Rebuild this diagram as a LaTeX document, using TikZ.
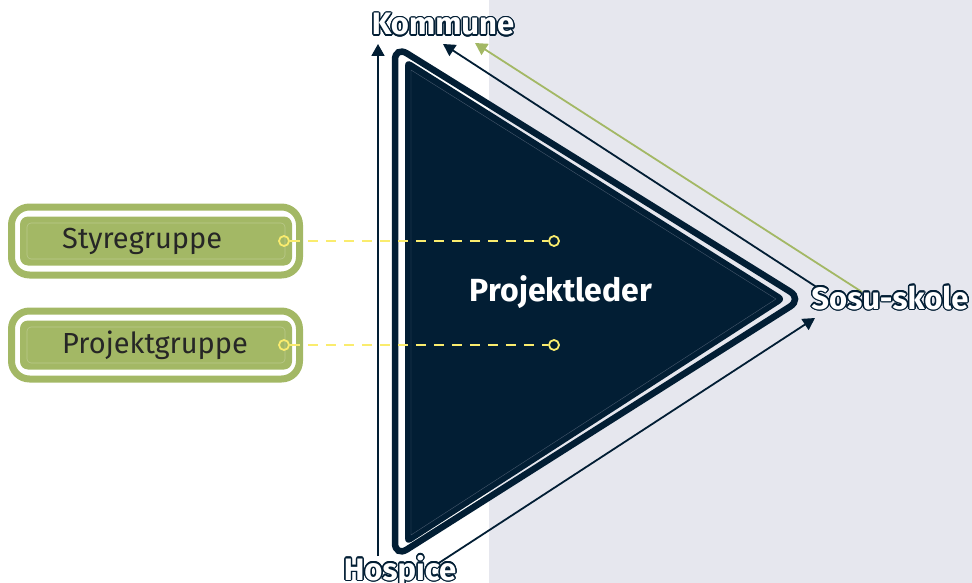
\documentclass[tikz,border=0pt]{standalone}
\usepackage{fontspec}
\setmainfont{Fira Sans}
\usepackage{contour}
\contourlength{1.4pt}
\usetikzlibrary{arrows.meta}
\definecolor{navy}{RGB}{2,30,52}
\definecolor{leaf}{RGB}{163,184,101}
\definecolor{leaflight}{RGB}{186,201,140}
\definecolor{paper}{RGB}{230,231,238}
\definecolor{lemon}{RGB}{250,236,110}
\definecolor{seam}{RGB}{70,88,108}

\begin{document}
\begin{tikzpicture}[x=1pt,y=-1pt,
  corner/.style={font=\bfseries\fontsize{31}{36}\selectfont, text=white, inner sep=0pt, anchor=base},
  grp/.style={font=\fontsize{29}{34}\selectfont, text=black!85, inner sep=0pt},
  pin/.style={circle, draw=lemon, line width=1.8pt, inner sep=0pt, minimum size=10pt},
  flow/.style={navy, line width=1.8pt, -{Triangle[width=13pt,length=12pt]}}]
  \useasboundingbox (0,0) rectangle (972,583);
  \fill[paper] (489,0) rectangle (972,583);

  % triangle
  \draw[navy, line width=6.5pt, rounded corners=14pt] (395,46) -- (802,299) -- (395,557) -- cycle;
  \fill[navy, rounded corners=8pt] (405,58) -- (787,299) -- (405,546) -- cycle;
  \draw[seam, line width=0.4pt] (411,70) -- (776,299) -- (411,535) -- cycle;

  % groups
  \foreach \y/\name/\txt in {241/sty/Styregruppe, 345/prj/Projektgruppe} {
    \draw[leaf, line width=7pt, rounded corners=18pt] (11.5,\y-34) rectangle (299.5,\y+34);
    \fill[leaf, rounded corners=8pt] (20,\y-24.5) rectangle (292,\y+24.5);
    \draw[leaflight, line width=0.6pt, rounded corners=4pt] (27,\y-18) rectangle (285,\y+18);
    \node[grp, anchor=west] (\name) at (62,\y) {\txt};
    \node[pin] (\name a) at (284,\y) {};
    \node[pin] (\name b) at (554,\y) {};
    \draw[lemon, line width=1.8pt, dash pattern=on 10pt off 8pt] (\name a) -- (\name b);
  }

  % arrows
  \coordinate (hosB) at (378,556);
  \coordinate (komA) at (378,44);
  \coordinate (sosA) at (818,288);
  \coordinate (komB) at (443,44);
  \coordinate (sosB) at (862,292);
  \coordinate (komC) at (475,43);
  \coordinate (hosC) at (425,572);
  \coordinate (sosC) at (815,318);
  \draw[flow] (hosB) -- (komA);
  \draw[flow] (sosA) -- (komB);
  \draw[flow, leaf] (sosB) -- (komC);
  \draw[flow] (hosC) -- (sosC);

  % labels
  \node[corner] (kommune) at (443,35) {\contour{navy}{Kommune}};
  \node[corner] (sosu) at (890,309) {\contour{navy}{Sosu-skole}};
  \node[corner] (hospice) at (400,580) {\contour{navy}{Hospice}};
  \node[font=\bfseries\fontsize{32}{36}\selectfont, text=white] (leder) at (561,292) {Projektleder};
\end{tikzpicture}
\end{document}
